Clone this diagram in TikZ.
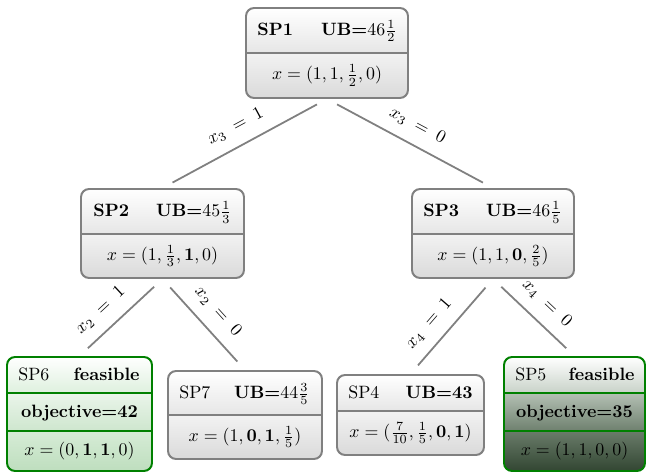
\documentclass[tikz,border=0pt]{standalone}
\usepackage{amsmath}
\usetikzlibrary{fit}
\definecolor{bordergray}{RGB}{128,128,128}
\definecolor{gTopB}{RGB}{230,230,230}
\definecolor{gBotT}{RGB}{242,242,242}
\definecolor{gBotB}{RGB}{218,218,218}
\definecolor{bordergreen}{RGB}{0,128,0}
\definecolor{lTopB}{RGB}{222,240,222}
\definecolor{lMidT}{RGB}{234,245,234}
\definecolor{lMidB}{RGB}{206,230,206}
\definecolor{lBotT}{RGB}{214,236,214}
\definecolor{lBotB}{RGB}{190,222,190}
\definecolor{dTopB}{RGB}{200,210,200}
\definecolor{dMidT}{RGB}{180,192,180}
\definecolor{dMidB}{RGB}{110,128,110}
\definecolor{dBotT}{RGB}{106,124,106}
\definecolor{dBotB}{RGB}{50,70,50}
\begin{document}
\begin{tikzpicture}[x=0.56pt,y=-0.56pt,
  grayframe/.style={draw=bordergray,line width=1.1pt,rounded corners=4.5pt,inner sep=0pt},
  greenframe/.style={draw=bordergreen,line width=1.1pt,rounded corners=4.5pt,inner sep=0pt},
  graydiv/.style={draw=bordergray,line width=1.1pt},
  greendiv/.style={draw=bordergreen,line width=1.1pt},
  gtop/.style={top color=white,bottom color=gTopB},
  gbot/.style={top color=gBotT,bottom color=gBotB},
  ltop/.style={top color=white,bottom color=lTopB},
  lmid/.style={top color=lMidT,bottom color=lMidB},
  lbot/.style={top color=lBotT,bottom color=lBotB},
  dtop/.style={top color=white,bottom color=dTopB},
  dmid/.style={top color=dMidT,bottom color=dMidB},
  dbot/.style={top color=dBotT,bottom color=dBotB},
  txt/.style={inner sep=0pt},
  conn/.style={draw=bordergray,line width=1pt,shorten >=6.4pt,shorten <=6.4pt},
  lbl/.style={sloped,above=3pt}]
\useasboundingbox (0,0) rectangle (646,472);

% ---------- SP1
\begin{scope}
\clip[rounded corners=4.5pt] (246,8) rectangle (408,98);
\shade[gtop] (246,8) rectangle (408,53);
\shade[gbot] (246,53) rectangle (408,98);
\end{scope}
\node[grayframe,fit={(246,8)(408,98)}] (sp1) {};
\draw[graydiv] (246,53) -- (408,53);
\node[txt,anchor=base west] (sp1a) at (257,35.5) {\textbf{SP1}};
\node[txt,anchor=base east] (sp1b) at (397,35.5) {\textbf{UB=}$46\frac{1}{2}$};
\node[txt,anchor=base] (sp1c) at (327,80) {$x=(1,1,\frac{1}{2},0)$};

% ---------- SP2
\begin{scope}
\clip[rounded corners=4.5pt] (81,189) rectangle (244,278);
\shade[gtop] (81,189) rectangle (244,234);
\shade[gbot] (81,234) rectangle (244,278);
\end{scope}
\node[grayframe,fit={(81,189)(244,278)}] (sp2) {};
\draw[graydiv] (81,234) -- (244,234);
\node[txt,anchor=base west] (sp2a) at (93,217) {\textbf{SP2}};
\node[txt,anchor=base east] (sp2b) at (232,217) {\textbf{UB=}$45\frac{1}{3}$};
\node[txt,anchor=base] (sp2c) at (162.5,260.5) {$x=(1,\frac{1}{3},\mathbf{1},0)$};

% ---------- SP3
\begin{scope}
\clip[rounded corners=4.5pt] (412,189) rectangle (574,278);
\shade[gtop] (412,189) rectangle (574,234);
\shade[gbot] (412,234) rectangle (574,278);
\end{scope}
\node[grayframe,fit={(412,189)(574,278)}] (sp3) {};
\draw[graydiv] (412,234) -- (574,234);
\node[txt,anchor=base west] (sp3a) at (423,217) {\textbf{SP3}};
\node[txt,anchor=base east] (sp3b) at (562,217) {\textbf{UB=}$46\frac{1}{5}$};
\node[txt,anchor=base] (sp3c) at (493,260.5) {$x=(1,1,\mathbf{0},\frac{2}{5})$};

% ---------- SP6
\begin{scope}
\clip[rounded corners=4.5pt] (7,357) rectangle (152,471);
\shade[ltop] (7,357) rectangle (152,393);
\shade[lmid] (7,393) rectangle (152,431);
\shade[lbot] (7,431) rectangle (152,471);
\end{scope}
\node[greenframe,fit={(7,357)(152,471)}] (sp6) {};
\draw[greendiv] (7,393) -- (152,393);
\draw[greendiv] (7,431) -- (152,431);
\node[txt,anchor=base west] (sp6a) at (18,380.5) {SP6};
\node[txt,anchor=base east] (sp6b) at (140,380.5) {\textbf{feasible}};
\node[txt,anchor=base] (sp6c) at (79.5,417.5) {\textbf{objective=42}};
\node[txt,anchor=base] (sp6d) at (79.5,455.5) {$x=(0,\mathbf{1},\mathbf{1},0)$};

% ---------- SP7
\begin{scope}
\clip[rounded corners=4.5pt] (168,371) rectangle (322,459);
\shade[gtop] (168,371) rectangle (322,415);
\shade[gbot] (168,415) rectangle (322,459);
\end{scope}
\node[grayframe,fit={(168,371)(322,459)}] (sp7) {};
\draw[graydiv] (168,415) -- (322,415);
\node[txt,anchor=base west] (sp7a) at (179,398.5) {SP7};
\node[txt,anchor=base east] (sp7b) at (310,398.5) {\textbf{UB=}$44\frac{3}{5}$};
\node[txt,anchor=base] (sp7c) at (245,441.5) {$x=(1,\mathbf{0},\mathbf{1},\frac{1}{5})$};

% ---------- SP4
\begin{scope}
\clip[rounded corners=4.5pt] (337,375) rectangle (484,455);
\shade[gtop] (337,375) rectangle (484,411);
\shade[gbot] (337,411) rectangle (484,455);
\end{scope}
\node[grayframe,fit={(337,375)(484,455)}] (sp4) {};
\draw[graydiv] (337,411) -- (484,411);
\node[txt,anchor=base west] (sp4a) at (348,398.5) {SP4};
\node[txt,anchor=base east] (sp4b) at (473,398.5) {\textbf{UB=43}};
\node[txt,anchor=base] (sp4c) at (410.5,437.5) {$x=(\frac{7}{10},\frac{1}{5},\mathbf{0},\mathbf{1})$};

% ---------- SP5
\begin{scope}
\clip[rounded corners=4.5pt] (504,357) rectangle (645,471);
\shade[dtop] (504,357) rectangle (645,393);
\shade[dmid] (504,393) rectangle (645,431);
\shade[dbot] (504,431) rectangle (645,471);
\end{scope}
\node[greenframe,fit={(504,357)(645,471)}] (sp5) {};
\draw[greendiv] (504,393) -- (645,393);
\draw[greendiv] (504,431) -- (645,431);
\node[txt,anchor=base west] (sp5a) at (515,380.5) {SP5};
\node[txt,anchor=base east] (sp5b) at (635,380.5) {\textbf{feasible}};
\node[txt,anchor=base] (sp5c) at (574.5,417.5) {\textbf{objective=35}};
\node[txt,anchor=base] (sp5d) at (574.5,455.5) {$x=(1,1,0,0)$};

% ---------- connectors
\draw[conn] (sp1.south) -- node[lbl,pos=0.5] (l13) {$x_3\;=\;1$} (sp2.north);
\draw[conn] (sp1.south) -- node[lbl,pos=0.49] (l03) {$x_3\;=\;0$} (sp3.north);
\draw[conn] (sp2.south) -- node[lbl,pos=0.59] (l12) {$x_2\;=\;1$} (sp6.north);
\draw[conn] (sp2.south) -- node[lbl,pos=0.5] (l02) {$x_2\;=\;0$} (sp7.north);
\draw[conn] (sp3.south) -- node[lbl,pos=0.6] (l14) {$x_4\;=\;1$} (sp4.north);
\draw[conn] (sp3.south) -- node[lbl,pos=0.5] (l04) {$x_4\;=\;0$} (sp5.north);
\end{tikzpicture}
\end{document}
